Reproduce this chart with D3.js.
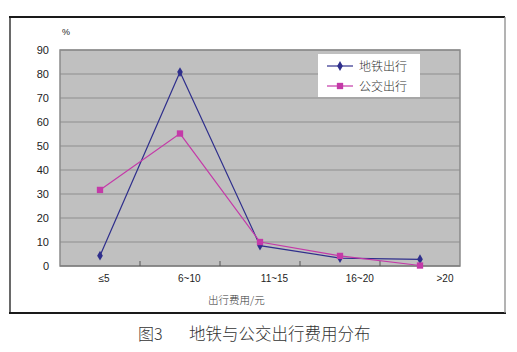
<!DOCTYPE html>
<html lang="zh">
<head>
<meta charset="UTF-8" />
<script src="https://d3js.org/d3.v7.min.js"></script>
<style>
    body { margin: 0; background: #fff; }
    svg { display: block; }
    .tick-lab { font-family: "Liberation Sans", Arial, sans-serif; font-size: 11px; fill: #222; }
    .cjk { font-family: "Noto Sans CJK SC", sans-serif; fill: #333; font-weight: 300; }
</style>
</head>
<body>
<script>
    // data
    const categories = ['≤5', '6~10', '11~15', '16~20', '>20'];
    const subway = [4.3, 80.8, 8.5, 3.3, 2.8];
    const bus = [31.7, 55.2, 10.0, 4.2, 0.2];
    const yTicks = [0, 10, 20, 30, 40, 50, 60, 70, 80, 90];

    const W = 517, H = 352;
    const plot = { left: 60, right: 460, top: 50, bottom: 266 };

    const svg = d3.select('body').append('svg')
        .attr('width', W).attr('height', H);

    // outer frame
    svg.append('line').attr('x1', 9).attr('x2', 505).attr('y1', 17).attr('y2', 17)
        .attr('stroke', '#1a1a1a').attr('stroke-width', 2.2);
    svg.append('line').attr('x1', 9).attr('x2', 506).attr('y1', 313).attr('y2', 313)
        .attr('stroke', '#1a1a1a').attr('stroke-width', 2.2);
    svg.append('line').attr('x1', 10).attr('x2', 10).attr('y1', 17).attr('y2', 313)
        .attr('stroke', '#1a1a1a').attr('stroke-width', 1.3);
    svg.append('line').attr('x1', 505).attr('x2', 505).attr('y1', 17).attr('y2', 313)
        .attr('stroke', '#8a8a8a').attr('stroke-width', 1.3);

    const x = d3.scaleBand().domain(categories).range([plot.left, plot.right]);
    const y = d3.scaleLinear().domain([0, 90]).range([plot.bottom, plot.top]);
    // labels in the scan sit a little right of the points
    const xLab = d3.scalePoint().domain(categories).range([104, 445]);

    // plot background
    svg.append('rect')
        .attr('x', plot.left).attr('y', plot.top)
        .attr('width', plot.right - plot.left).attr('height', plot.bottom - plot.top)
        .attr('fill', '#c0c0c0');

    // gridlines
    svg.append('g').selectAll('line')
        .data(yTicks.filter(d => d > 0))
        .join('line')
        .attr('x1', plot.left).attr('x2', plot.right)
        .attr('y1', d => y(d)).attr('y2', d => y(d))
        .attr('stroke', '#8e8e8e').attr('stroke-width', 1);

    // plot border
    svg.append('rect')
        .attr('x', plot.left).attr('y', plot.top)
        .attr('width', plot.right - plot.left).attr('height', plot.bottom - plot.top)
        .attr('fill', 'none').attr('stroke', '#8a8a8a').attr('stroke-width', 1.5);

    // x axis line + inner ticks at category boundaries
    svg.append('line').attr('x1', plot.left).attr('x2', plot.right)
        .attr('y1', plot.bottom).attr('y2', plot.bottom)
        .attr('stroke', '#777').attr('stroke-width', 1.2);
    svg.append('g').selectAll('line')
        .data(categories.slice(1))
        .join('line')
        .attr('x1', d => x(d)).attr('x2', d => x(d))
        .attr('y1', plot.bottom - 5).attr('y2', plot.bottom)
        .attr('stroke', '#555');

    // y tick labels
    svg.append('g').selectAll('text')
        .data(yTicks)
        .join('text')
        .attr('class', 'tick-lab')
        .attr('x', 49).attr('y', d => y(d) + 4)
        .attr('text-anchor', 'end')
        .text(d => d);

    // x tick labels
    svg.append('g').selectAll('text')
        .data(categories)
        .join('text')
        .attr('class', 'tick-lab')
        .attr('x', d => xLab(d)).attr('y', 282)
        .attr('text-anchor', 'middle')
        .style('font-size', '10px')
        .text(d => d);

    svg.append('text').attr('class', 'tick-lab')
        .attr('x', 62).attr('y', 35).style('font-size', '9px').text('%');

    svg.append('text').attr('class', 'cjk')
        .attr('x', 208).attr('y', 304).style('font-size', '10.5px')
        .text('出行费用/元');

    // caption
    svg.append('text').attr('class', 'cjk')
        .attr('x', 138).attr('y', 340).style('font-size', '16px')
        .text('图3');
    svg.append('text').attr('class', 'cjk')
        .attr('x', 189).attr('y', 340).style('font-size', '16.5px')
        .text('地铁与公交出行费用分布');

    const cx = d => x(d) + x.bandwidth() / 2;
    const line = d3.line().x(d => cx(d[0])).y(d => y(d[1]));

    const series = [
        { name: '地铁出行', values: subway, color: '#2f2f8c', shape: d3.symbolDiamond, size: 28 },
        { name: '公交出行', values: bus, color: '#c43aa8', shape: d3.symbolSquare, size: 40 }
    ];

    series.forEach(s => {
        const pts = categories.map((c, i) => [c, s.values[i]]);
        svg.append('path')
            .attr('d', line(pts))
            .attr('fill', 'none')
            .attr('stroke', s.color)
            .attr('stroke-width', 1.2);
        svg.append('g').selectAll('path')
            .data(pts)
            .join('path')
            .attr('transform', d => `translate(${cx(d[0])},${y(d[1])})`)
            .attr('d', d3.symbol().type(s.shape).size(s.size))
            .attr('fill', s.color);
    });

    // legend
    const lg = svg.append('g').attr('transform', 'translate(318,54)');
    lg.append('rect').attr('width', 102).attr('height', 43).attr('fill', '#fff');
    const item = lg.selectAll('g.item')
        .data(series)
        .join('g')
        .attr('class', 'item')
        .attr('transform', (d, i) => `translate(0,${12 + i * 20})`);
    item.append('line').attr('x1', 9).attr('x2', 35)
        .attr('stroke', d => d.color).attr('stroke-width', 1.2);
    item.append('path')
        .attr('transform', 'translate(22,0)')
        .attr('d', d => d3.symbol().type(d.shape).size(d.size)())
        .attr('fill', d => d.color);
    item.append('text').attr('class', 'cjk')
        .attr('x', 41).attr('y', 4.5)
        .style('font-size', '12px')
        .text(d => d.name);
</script>
</body>
</html>
